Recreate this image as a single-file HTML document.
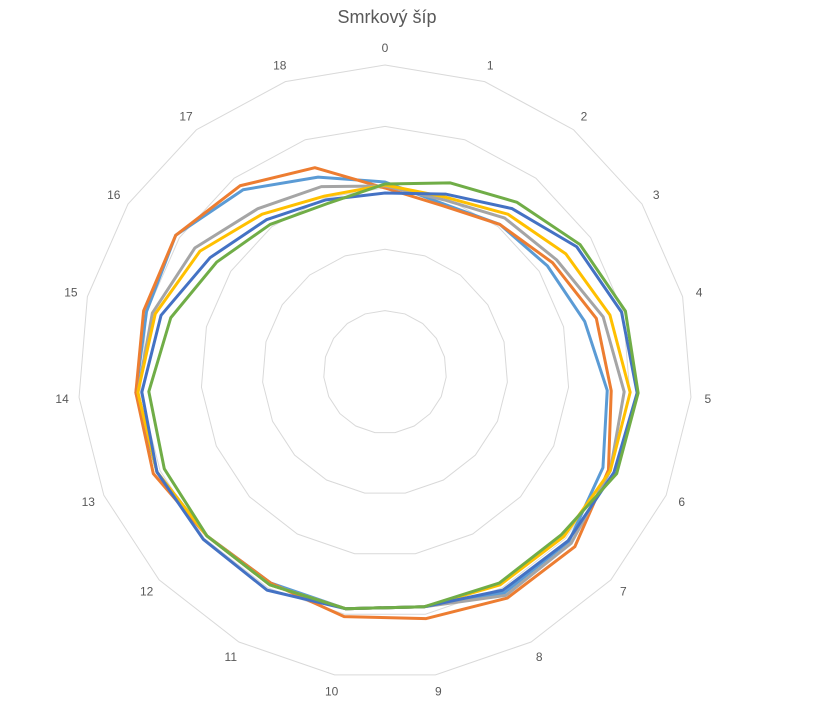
<!DOCTYPE html>
<html><head><meta charset="utf-8"><style>
body{margin:0;background:#fff;}
svg{display:block;font-family:"Liberation Sans",sans-serif;}
</style></head><body>
<svg id="s" width="820" height="712" xmlns="http://www.w3.org/2000/svg">
<rect width="820" height="712" fill="#fff"/>
<text x="387" y="23" text-anchor="middle" font-size="18" fill="#595959">Smrkový šíp</text>
<g id="g"></g>
</svg>
<script>
var cx=385,cy=372,R=307,N=19,g=document.getElementById('g'),h='';
function pt(k,r){var a=k*2*Math.PI/N;return [cx+r*Math.sin(a),cy-r*Math.cos(a)];}
for(var i=1;i<=5;i++){var p=[];for(var k=0;k<N;k++){p.push(pt(k,R*i/5).join(','));}
h+='<polygon points="'+p.join(' ')+'" fill="none" stroke="#d9d9d9" stroke-width="1"/>';}
for(var k=0;k<N;k++){var q=pt(k,324);h+='<text x="'+q[0]+'" y="'+(q[1]+4)+'" text-anchor="middle" font-size="12" fill="#595959">'+k+'</text>';}
var S=[
['#5B9BD5',[190,178,187,194,206,223,238,250,251,238,240,240,242,249,250,246,250,231,206]],
['#ED7D31',[184,176,187,200,218,227,244,258,257,250,248,240,242,253,250,249,250,236,216]],
['#A5A5A5',[186,182,195,205,225,240,246,253,254,238,240,242,242,249,248,240,227,207,196]],
['#FFC000',[187,185,200,216,232,246,246,243,242,238,240,242,242,249,248,237,221,200,186]],
['#4472C4',[179,188,207,229,244,253,250,249,248,238,240,248,247,249,244,231,209,193,182]],
['#70AD47',[188,200,215,233,248,254,253,240,240,238,240,242,242,241,237,221,201,187,178]]];
S.forEach(function(s){var p=[];for(var k=0;k<N;k++)p.push(pt(k,s[1][k]).join(','));
h+='<polygon points="'+p.join(' ')+'" fill="none" stroke="'+s[0]+'" stroke-width="3" stroke-linejoin="round"/>';});
g.innerHTML=h;
</script>
</body></html>
